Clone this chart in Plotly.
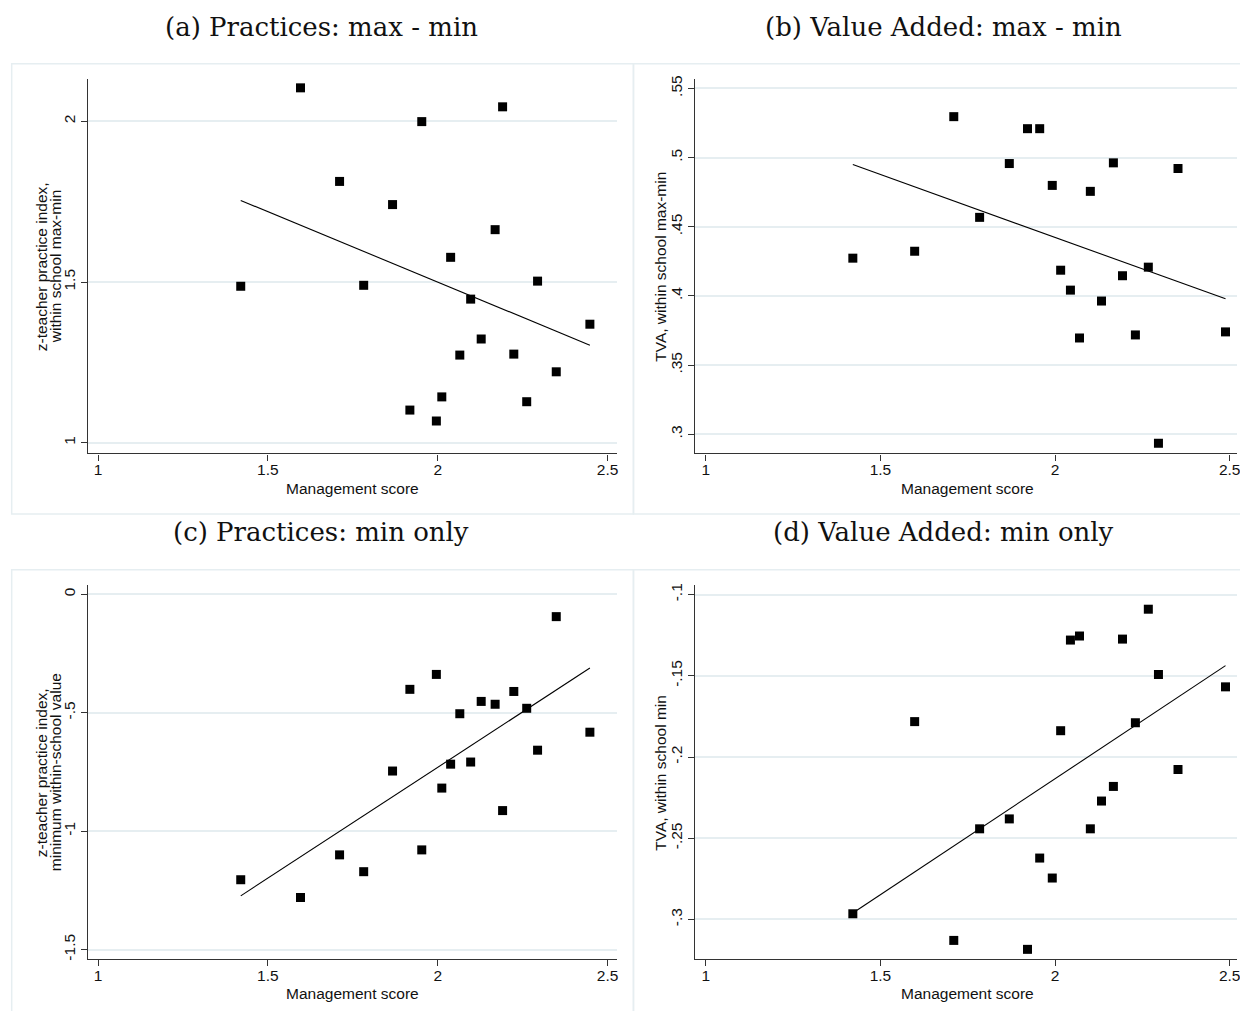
import numpy as np
import plotly.graph_objects as go

# page body has an 8px margin; the figure is sized/shifted so the drawing lands on the window
OX, OY = 8, 8
W, H = 1232, 1003

# ---------------- data ----------------
mgmt_practice = [1.420, 1.596, 1.711, 1.782, 1.867, 1.918, 1.953, 1.996, 2.012, 2.038,
                 2.065, 2.097, 2.128, 2.169, 2.191, 2.224, 2.262, 2.294, 2.349, 2.448]
practice_maxmin = [1.487, 2.104, 1.813, 1.490, 1.741, 1.102, 1.999, 1.068, 1.143, 1.577,
                   1.273, 1.447, 1.323, 1.663, 2.045, 1.276, 1.128, 1.503, 1.221, 1.369]
practice_min = [-1.205, -1.280, -1.100, -1.171, -0.746, -0.401, -1.079, -0.338, -0.818, -0.717,
                -0.504, -0.708, -0.452, -0.464, -0.913, -0.410, -0.481, -0.658, -0.094, -0.582]

mgmt_tva = [1.421, 1.598, 1.710, 1.784, 1.869, 1.921, 1.956, 1.992, 2.016, 2.044,
            2.070, 2.101, 2.133, 2.167, 2.193, 2.230, 2.267, 2.296, 2.352, 2.488]
tva_maxmin = [0.4273, 0.4323, 0.5296, 0.4568, 0.4957, 0.5209, 0.5209, 0.4799, 0.4186, 0.4042,
              0.3696, 0.4756, 0.3963, 0.4962, 0.4146, 0.3718, 0.4208, 0.2935, 0.4921, 0.3740]
tva_min = [-0.2965, -0.1782, -0.3129, -0.2442, -0.2381, -0.3184, -0.2622, -0.2745, -0.1838, -0.1280,
           -0.1255, -0.2442, -0.2271, -0.2181, -0.1274, -0.1789, -0.1090, -0.1492, -0.2077, -0.1568]

panel_titles = ["(a) Practices: max - min", "(b) Value Added: max - min",
                "(c) Practices: min only", "(d) Value Added: min only"]
y_titles = [["z-teacher practice index,", "within school max-min"],
            ["TVA, within school max-min"],
            ["z-teacher practice index,", "minimum within-school value"],
            ["TVA, within school min"]]
x_title = "Management score"

x_tickvals = [1, 1.5, 2, 2.5]
x_ticktext = ["1", "1.5", "2", "2.5"]
y_tickvals = [[1, 1.5, 2],
              [0.3, 0.35, 0.4, 0.45, 0.5, 0.55],
              [-1.5, -1, -0.5, 0],
              [-0.3, -0.25, -0.2, -0.15, -0.1]]
y_ticktext = [["1", "1.5", "2"],
              [".3", ".35", ".4", ".45", ".5", ".55"],
              ["-1.5", "-1", "-.5", "0"],
              ["-.3", "-.25", "-.2", "-.15", "-.1"]]

# ---------------- layout geometry (window pixels) ----------------
def px(x):
    return (x - OX) / W

def py(y):
    return 1 - (y - OY) / H

left_dom = [px(88.3), px(618.3)]
right_dom = [px(696.5), 1.0]          # figure edge sits at window x = 1240
top_dom = [py(451.7), py(75.5)]
bot_dom = [py(960.0), py(584.3)]

panels = [
    dict(x=mgmt_practice, y=practice_maxmin, xd=left_dom, yd=top_dom,
         xr=[0.9706, 2.5273], yr=[0.967, 2.131]),
    dict(x=mgmt_tva, y=tva_maxmin, xd=right_dom, yd=top_dom,
         xr=[0.9686, 2.5209], yr=[0.2861, 0.5567]),
    dict(x=mgmt_practice, y=practice_min, xd=left_dom, yd=bot_dom,
         xr=[0.9706, 2.5273], yr=[-1.5408, 0.0378]),
    dict(x=mgmt_tva, y=tva_min, xd=right_dom, yd=bot_dom,
         xr=[0.9686, 2.5209], yr=[-0.3245, -0.09436]),
]

boxes = [(11.7, 60, 635, 512.5), (635, 60, 1265, 512.5),
         (11.7, 568.5, 635, 1030), (635, 568.5, 1265, 1030)]
title_pos = [(322, 23.5), (946, 23.5), (322, 531), (946, 531)]
ytitle_x = [[41, 55], [662], [41, 55], [662]]

fig = go.Figure()
GRID = "#e6eef1"
AXC = "#333333"
sans = "Liberation Sans, Arial, sans-serif"
serif = "DejaVu Serif, serif"

shapes = []
annotations = []
for i, p in enumerate(panels):
    k = "" if i == 0 else str(i + 1)
    xa, ya = "x" + k, "y" + k
    x = np.array(p["x"])
    y = np.array(p["y"])
    fig.add_trace(go.Scatter(x=x, y=y, mode="markers", xaxis=xa, yaxis=ya,
                             marker=dict(symbol="square", size=9, color="black"),
                             showlegend=False, cliponaxis=False))
    b, a = np.polyfit(x, y, 1)
    xs = np.array([x.min(), x.max()])
    fig.add_trace(go.Scatter(x=xs, y=a + b * xs, mode="lines", xaxis=xa, yaxis=ya,
                             line=dict(color="black", width=1.1), showlegend=False))
    fig.layout["xaxis" + k] = dict(
        domain=p["xd"], range=p["xr"], anchor=ya, showgrid=False, zeroline=False,
        showline=True, linecolor=AXC, linewidth=1.2, ticks="outside", ticklen=6,
        tickcolor=AXC, tickwidth=1, tickvals=x_tickvals, ticktext=x_ticktext,
        ticklabelstandoff=-4, ticklabeloverflow="allow",
        tickfont=dict(family=sans, size=15.5, color="#111"))
    fig.layout["yaxis" + k] = dict(
        domain=p["yd"], range=p["yr"], anchor=xa, showgrid=True, gridcolor=GRID,
        gridwidth=1.5, zeroline=False, showline=True, linecolor=AXC, linewidth=1.2,
        ticks="outside", ticklen=6, tickcolor=AXC, tickwidth=1,
        tickvals=y_tickvals[i], ticktext=y_ticktext[i], tickangle=-90,
        ticklabeloverflow="allow",
        tickfont=dict(family=sans, size=15.5, color="#111"))

    x0, y0, x1, y1 = boxes[i]
    shapes.append(dict(type="rect", xref="paper", yref="paper", x0=px(x0), x1=px(x1),
                       y0=py(y1), y1=py(y0), line=dict(color=GRID, width=1.5),
                       fillcolor="rgba(0,0,0,0)", layer="below"))
    tx, ty = title_pos[i]
    annotations.append(dict(text=panel_titles[i], xref="paper", yref="paper",
                            x=px(tx), y=py(ty), xanchor="center", yanchor="middle",
                            showarrow=False, font=dict(family=serif, size=26, color="#111")))
    # x title
    cx = (px(88.3) + px(618.3)) / 2 if i % 2 == 0 else (px(696.5) + px(1243.3)) / 2
    xty = 486.5 if i < 2 else 994.5
    annotations.append(dict(text=x_title, xref="paper", yref="paper", x=cx, y=py(xty),
                            xanchor="center", yanchor="middle", showarrow=False,
                            font=dict(family=sans, size=15.5, color="#111")))
    cy = (p["yd"][0] + p["yd"][1]) / 2
    for line, lx in zip(y_titles[i], ytitle_x[i]):
        annotations.append(dict(text=line, xref="paper", yref="paper", x=px(lx), y=cy,
                                xanchor="center", yanchor="middle", textangle=-90,
                                showarrow=False,
                                font=dict(family=sans, size=15.5, color="#111")))

fig.update_layout(width=W, height=H, margin=dict(l=0, r=0, t=0, b=0),
                  paper_bgcolor="white", plot_bgcolor="white",
                  shapes=shapes, annotations=annotations)

fig.write_html("out.html")
